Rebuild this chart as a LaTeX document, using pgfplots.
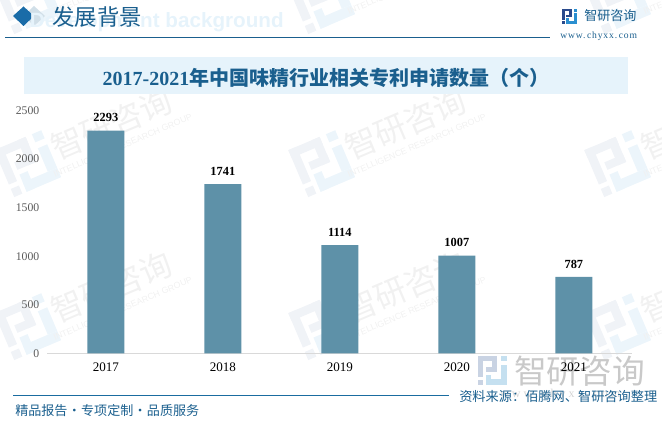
\documentclass[border=0pt]{standalone}
\usepackage{pgfplots}
\pgfplotsset{compat=1.18}
\usepackage{fontspec}
\setmainfont{Liberation Serif}
\newfontfamily\cjk{Noto Sans CJK SC}
\newfontfamily\lsans{Liberation Sans}
\definecolor{tblue}{HTML}{1A5F8E}
\definecolor{barc}{HTML}{5E91A8}
\definecolor{boxc}{HTML}{E6F3FB}
\definecolor{wmt}{HTML}{F1F1F1}
\definecolor{wma}{HTML}{F0F3F7}
\definecolor{wmb}{HTML}{ECF5FB}
\definecolor{diam}{HTML}{1A6CA8}
\definecolor{lga}{HTML}{2A4A8C}
\definecolor{lgb}{HTML}{2A8FD0}
\definecolor{bwa}{HTML}{C9D3E3}
\definecolor{bwb}{HTML}{C5E0F0}
\definecolor{bwt}{HTML}{C9C9C9}
\definecolor{bwu}{HTML}{D4D4D4}
\definecolor{fline}{HTML}{1A6CA0}
\definecolor{axl}{HTML}{D9D9D9}
\definecolor{ytk}{HTML}{595959}
% logo in a 15x15 box with the origin at its lower left
\newcommand\logo[2]{%
  \fill[#1] (0,12.5) rectangle (10,15);
  \fill[#1] (0,4) rectangle (2.6,15);
  \fill[#1] (7.4,7) rectangle (10,15);
  \fill[#1] (4,7) rectangle (10,9.4);
  \fill[#1] (0,0) rectangle (2.6,2.6);
  \fill[#2] (12,12.4) rectangle (15,15);
  \fill[#2] (12,3) rectangle (15,10.5);
  \fill[#2] (4,0) rectangle (15,3);
  \fill[#2] (4,0) rectangle (6.6,5.5);
}
\newcommand\wm[2]{%
  \begin{scope}[shift={(#1,421-#2)},rotate=23]
    \begin{scope}[shift={(-26,-26)},scale=3.4]\logo{wma}{wmb}\end{scope}
    \node[transform shape,text=wmt,inner sep=0pt] at (92,3) {\cjk\fontsize{24}{24}\selectfont 智研咨询};
    \node[transform shape,text=wmt,inner sep=0pt] at (94,-21) {\lsans\fontsize{6.6}{6.6}\selectfont INTELLIGENCE RESEARCH GROUP};
  \end{scope}}
\begin{document}
\begin{tikzpicture}[x=0.75pt,y=0.75pt]
\path[use as bounding box] (0,0) rectangle (662,421);
\begin{scope}
\clip (0,0) rectangle (662,421);
\foreach \cx in {28,322,618}{\foreach \cy in {0,163,326}{\wm{\cx}{\cy}}}
\end{scope}
% header
\fill[tblue!20!white] (24,405) -- (34,395) -- (45,405) -- (34,415) -- cycle;
\fill[diam] (13,405) -- (23.5,395) -- (34,405) -- (23.5,414.5) -- cycle;
\node[anchor=east,text=boxc,inner sep=0pt] at (284,421-22) {\lsans\bfseries\fontsize{15.5}{15.5}\selectfont Development background};
\node[anchor=west,text=tblue,inner sep=0pt] at (52,421-16.5) {\cjk\fontsize{16.8}{16.8}\selectfont 发展背景};
\draw[tblue,line width=0.75pt] (5,421-37.5) -- (550,421-37.5);
\begin{scope}[shift={(562,421-24)}]\logo{lga}{lgb}\end{scope}
\node[anchor=west,text=tblue,inner sep=0pt] at (584,421-15.5) {\cjk\fontsize{9.8}{9.8}\selectfont 智研咨询};
\node[anchor=west,text=tblue,inner sep=0pt] at (560,421-36) {\addfontfeatures{LetterSpace=9}\fontsize{7.2}{7.2}\selectfont www.\,chyxx.\,com};
% title box
\fill[boxc] (24,421-57) rectangle (628,421-94);
\node[text=tblue,inner sep=0pt] at (326,421-78) {\fontsize{15}{15}\selectfont\bfseries 2017-2021\cjk\bfseries 年中国味精行业相关专利申请数量（个）};
% bottom watermark
\begin{scope}[shift={(478,421-385)},scale=1.9]\logo{bwa}{bwb}\end{scope}
\node[anchor=west,text=bwt,inner sep=0pt] at (514,421-371) {\cjk\fontsize{24.5}{24.5}\selectfont 智研咨询};
\node[anchor=west,text=bwu,inner sep=0pt] at (500,421-395) {\fontsize{9}{9}\selectfont w w w . c h y x x . c o m};
% footer
\draw[fline,line width=0.75pt] (13,421-396) -- (449,421-396);
\node[anchor=west,text=tblue,inner sep=0pt] at (15,421-411) {\cjk\fontsize{9.8}{9.8}\selectfont 精品报告\hspace{0.2pt}·\hspace{0.2pt}专项定制\hspace{0.2pt}·\hspace{0.2pt}品质服务};
\node[anchor=west,text=tblue,inner sep=0pt] at (459,421-397) {\cjk\fontsize{9.9}{9.9}\selectfont 资料来源：佰腾网、智研咨询整理};
% chart
\begin{axis}[
  at={(40.5,69.5)},anchor=south west,
  scale only axis,width=438.75pt,height=182.25pt,
  xmin=-0.5,xmax=4.5,ymin=0,ymax=2500,
  axis x line=bottom,axis y line=left,
  x axis line style={draw=axl,line width=0.8pt,-},
  y axis line style={draw=none,-},
  xtick={0,1,2,3,4},xticklabels={2017,2018,2019,2020,2021},
  ytick={0,500,1000,1500,2000,2500},
  major tick length=0pt,
  /pgf/number format/assume math mode=true,
  /pgf/number format/.cd,fixed,set thousands separator={},/pgfplots/.cd,
  xticklabel style={font=\fontsize{9.8}{9.8}\selectfont,text=black,yshift=-3.5pt},
  yticklabel style={font=\fontsize{8.8}{8.8}\selectfont,text=ytk,xshift=-2.5pt},
  ybar,bar width=27.75pt,
  nodes near coords,
  nodes near coords style={font=\fontsize{9.3}{9.3}\selectfont\bfseries,text=black,yshift=3pt},
  clip=false,
]
\addplot[fill=barc,draw=none] coordinates {(0,2293) (1,1741) (2,1114) (3,1007) (4,787)};
\end{axis}
\end{tikzpicture}
\end{document}
